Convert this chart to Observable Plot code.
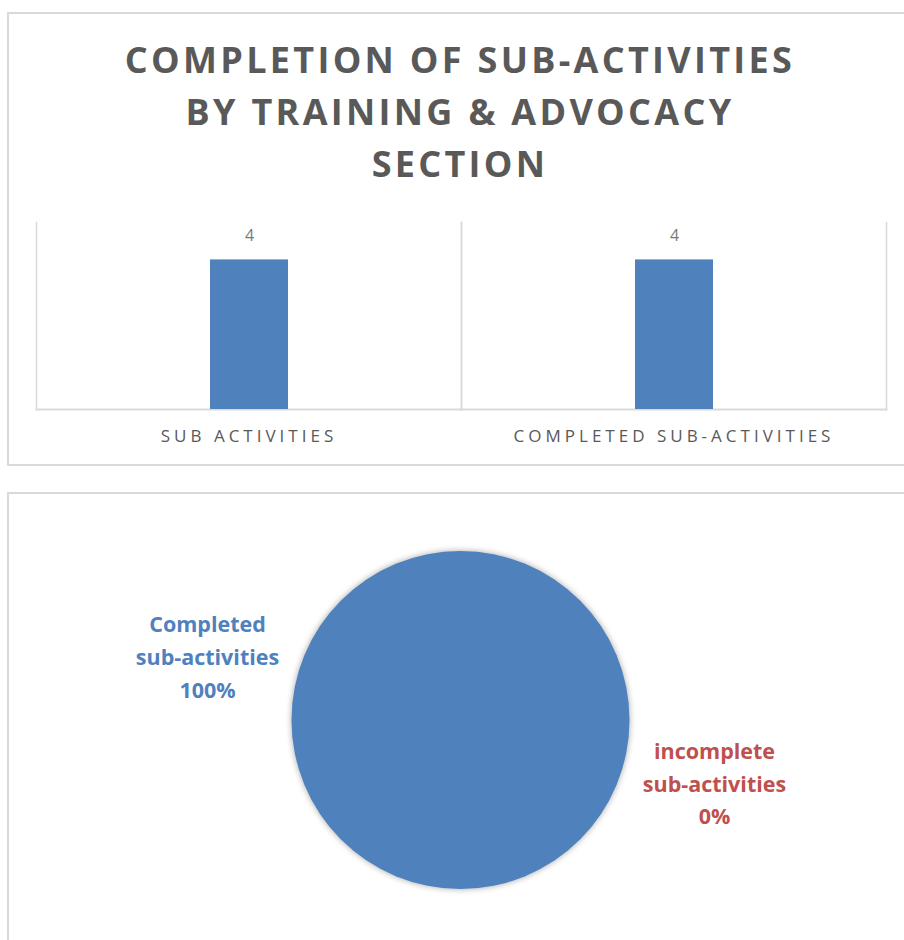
<!DOCTYPE html>
<html>
<head>
<meta charset="utf-8">
<script src="https://cdn.jsdelivr.net/npm/d3@7"></script>
<script src="https://cdn.jsdelivr.net/npm/@observablehq/plot@0.6"></script>
<style>
  html, body { margin: 0; padding: 0; background: #fff; width: 904px; height: 940px; overflow: hidden; position: relative; }
  .panel { position: absolute; box-sizing: border-box; border: 2px solid #d9d9d9; background: #fff; }
  #title { position: absolute; left: 16px; top: 34px; width: 888px; text-align: center;
    font-family: "Open Sans", sans-serif; font-weight: 700; font-size: 36px; line-height: 52px;
    letter-spacing: 3.3px; color: #595959; margin: 0; }
  #bars { position: absolute; left: 0; top: 200px; }
  #pie { position: absolute; left: 0; top: 492px; }
  #bars g[aria-label="fx-axis tick label"] { font-size: 17px; }
  #bars g[aria-label="fx-axis tick label"] text { letter-spacing: 4px; }
</style>
</head>
<body>
<div class="panel" style="left:7px; top:12px; width:920px; height:454px;"></div>
<div class="panel" style="left:7px; top:492px; width:920px; height:500px;"></div>
<h1 id="title">COMPLETION OF SUB-ACTIVITIES<br>BY TRAINING &amp; ADVOCACY<br>SECTION</h1>
<div id="bars"></div>
<div id="pie"></div>
<script>
// ---- data ----
const categories = ["SUB ACTIVITIES", "COMPLETED SUB-ACTIVITIES"];
const counts = [4, 4];
const sliceNames = ["Completed\nsub-activities", "incomplete\nsub-activities"];
const slicePercents = [100, 0];

const blue = "#4f81bd";
const red = "#c0504d";
const grid = "#d9d9d9";

// ---- bar chart ----
const barData = categories.map((c, i) => ({category: c, value: counts[i]}));
const bars = Plot.plot({
  width: 904, height: 260,
  marginLeft: 36, marginRight: 18, marginTop: 22, marginBottom: 51,
  style: {fontFamily: "'Open Sans', sans-serif", background: "transparent"},
  fx: {domain: categories, padding: 0, axis: null},
  x: {axis: null, padding: 0.69},
  y: {domain: [0, 5], axis: null},
  marks: [
    Plot.frame({anchor: "left", stroke: grid, strokeWidth: 1.5, strokeOpacity: 1}),
    Plot.frame({anchor: "right", stroke: grid, strokeWidth: 1.5, strokeOpacity: 1}),
    Plot.frame({anchor: "bottom", stroke: grid, strokeWidth: 2, strokeOpacity: 1}),
    Plot.barY(barData, {fx: "category", x: () => "bar", y: "value", fill: blue}),
    Plot.text(barData, {fx: "category", x: () => "bar", y: "value", text: d => String(d.value),
      dy: -24, fontSize: 16, fill: "#7a7a7a"}),
    Plot.axisFx({anchor: "bottom", tickSize: 0, tickPadding: 20, fontSize: 17, color: "#595959", label: null})
  ]
});
document.getElementById("bars").appendChild(bars);

// ---- pie chart ----
const pieData = sliceNames.map((n, i) => ({name: n, pct: slicePercents[i], color: i === 0 ? blue : red}));
const arcs = d3.pie().sort(null).value(d => d.pct)(pieData);
// label anchors in pie-radius units (Excel best-fit placement)
const labelAnchor = [[-1.5, 0.39], [1.5, -0.36]];
const labelData = pieData.map((d, i) => ({text: `${d.name}\n${d.pct}%`, color: d.color, lx: labelAnchor[i][0], ly: labelAnchor[i][1]}));

const pieW = 904, pieH = 448, cx = 460.5, cy = 228, R = 169;
const pie = Plot.plot({
  width: pieW, height: pieH,
  margin: 0,
  style: {fontFamily: "'Open Sans', sans-serif", background: "transparent", overflow: "visible"},
  x: {domain: [-1, 1], range: [cx - R, cx + R], axis: null},
  y: {domain: [-1, 1], range: [cy + R, cy - R], axis: null},
  marks: [
    (index, scales) => {
      const ox = scales.x(0), oy = scales.y(0);
      const r = scales.x(1) - scales.x(0);
      const g = d3.create("svg:g").attr("transform", `translate(${ox},${oy})`)
        .style("filter", "drop-shadow(0px 0px 3px rgba(0,0,0,0.35))");
      const arc = d3.arc().innerRadius(0).outerRadius(r);
      g.selectAll("path").data(arcs.filter(a => a.endAngle > a.startAngle)).join("path")
        .attr("d", arc).attr("fill", d => d.data.color);
      return g.node();
    },
    Plot.text(labelData, {x: "lx", y: "ly", text: "text", fill: "color", fontSize: 21.5,
      fontWeight: "bold", lineHeight: 1.52})
  ]
});
document.getElementById("pie").appendChild(pie);
</script>
</body>
</html>
